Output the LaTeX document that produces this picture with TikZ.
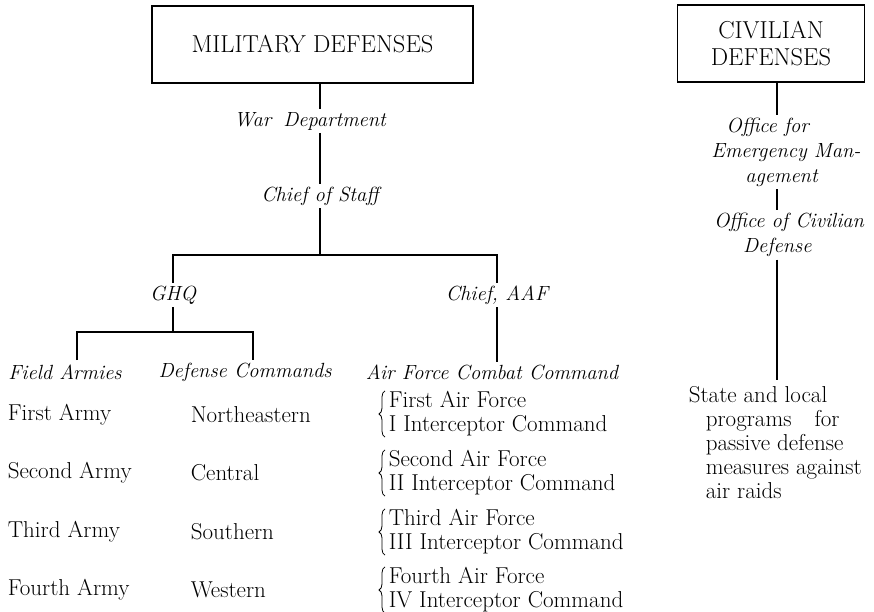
\documentclass[tikz,border=0pt]{standalone}
\usepackage{amsmath}
\usepackage{tikz}
\usetikzlibrary{decorations.pathreplacing}
\usetikzlibrary{calc, positioning, decorations}
\tikzstyle{head}=[draw, line width=1.6pt, inner sep=0pt, align=center, font=\fontsize{24.5}{27}\selectfont]
\tikzstyle{office}=[inner sep=2pt, align=center, font=\fontsize{20.5}{25}\selectfont\itshape]
\tikzstyle{unit}=[inner sep=0pt, anchor=west, align=left, font=\fontsize{23}{24}\selectfont]
\tikzstyle{brc}=[decorate, decoration={brace, amplitude=6pt}, line width=0.8pt]

\begin{document}
\begin{tikzpicture}[x=1pt, y=-1pt, line width=1.6pt]
\useasboundingbox (0,0) rectangle (874,612);
% the two boxes
\node [head, minimum width=321, minimum height=77] (mil) at (312.5,44.5) {MILITARY\ DEFENSES};
\node [head, minimum width=187, minimum height=77] (civ) at (771,43.5) {CIVILIAN\\DEFENSES};
% military side
\node [office] (war) at (310,121) {War\hspace{12pt}Department};
\node [office] (cos) at (320,196) {Chief of Staff};
\node [office] (ghq) at (173,295) {GHQ}; \node [office] (aaf) at (497,295) {Chief, AAF};
\node [office] (fa) at (65,372) {Field Armies}; \node [office] (dc) at (245,372) {Defense Commands};
\node [office] (acc) at (492,372) {Air Force Combat Command};
\coordinate (t) at (320,255); \coordinate (g) at (173,332);
\coordinate (fl) at (77,360); \coordinate (dl) at (253,360);
\node [unit] (a1) at (7,415) {First Army}; \node [unit] (d1) at (190,415) {Northeastern};
\node [unit] (a2) at (7,473) {Second Army}; \node [unit] (d2) at (190,473) {Central};
\node [unit] (a3) at (7,532) {Third Army}; \node [unit] (d3) at (190,532) {Southern};
\node [unit] (a4) at (7,590) {Fourth Army}; \node [unit] (d4) at (190,590) {Western};
\node [unit] (f1) at (388,414) {First Air Force\\I Interceptor Command};
\node [unit] (f2) at (388,473) {Second Air Force\\II Interceptor Command};
\node [unit] (f3) at (388,532) {Third Air Force\\III Interceptor Command};
\node [unit] (f4) at (388,590) {Fourth Air Force\\IV Interceptor Command};
% civilian side
\node [office, align=left] (ofe) at (786,152) {\hspace*{15pt}Office for\\Emergency Man-\\\hspace*{34pt}agement};
\node [office, align=left] (ocd) at (789,235) {Office of Civilian\\\hspace*{29pt}Defense};
\coordinate (cl) at (777,380);
\node [unit, anchor=north west] (sl) at (688,386) {State and local\\\hspace*{17pt}programs\quad for\\\hspace*{17pt}passive defense\\\hspace*{17pt}measures against\\\hspace*{17pt}air raids};
% connectors
\draw (mil.south -| cos) -- (war.north -| cos) (war.south -| cos) -- (cos.north);
\draw (cos.south) -- (t); \draw (ghq.north) |- (t) -| (aaf.north);
\draw (ghq.south) -- (g); \draw (fl) |- (g) -| (dl);
\draw (aaf.south) -- (aaf.south |- acc.north);
\draw (civ.south -| cl) -- (ofe.north -| cl) (ofe.south -| cl) -- (ocd.north -| cl) (ocd.south -| cl) -- (cl);
\draw [brc] ($(f1.south west)+(-3,0)$) -- ($(f1.north west)+(-3,0)$);
\draw [brc] ($(f2.south west)+(-3,0)$) -- ($(f2.north west)+(-3,0)$);
\draw [brc] ($(f3.south west)+(-3,0)$) -- ($(f3.north west)+(-3,0)$);
\draw [brc] ($(f4.south west)+(-3,0)$) -- ($(f4.north west)+(-3,0)$);
\end{tikzpicture}
\end{document}
